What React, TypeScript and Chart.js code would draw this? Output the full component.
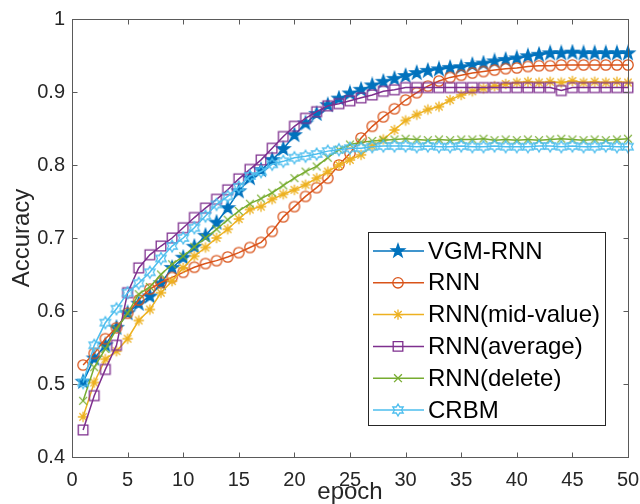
import React, { useEffect, useRef } from 'react';
import { Chart, registerables } from 'chart.js';

Chart.register(...registerables);

const epochs = [
  1, 2, 3, 4, 5, 6, 7, 8, 9, 10, 11, 12, 13, 14, 15, 16, 17, 18, 19, 20, 21, 22, 23, 24, 25,
  26, 27, 28, 29, 30, 31, 32, 33, 34, 35, 36, 37, 38, 39, 40, 41, 42, 43, 44, 45, 46, 47, 48, 49, 50,
];

const vgmRnn = [
  0.503, 0.535, 0.553, 0.577, 0.597, 0.610, 0.620, 0.638, 0.659, 0.673,
  0.688, 0.703, 0.721, 0.741, 0.764, 0.782, 0.793, 0.807, 0.822, 0.841,
  0.857, 0.870, 0.882, 0.891, 0.898, 0.903, 0.909, 0.914, 0.918, 0.922,
  0.926, 0.929, 0.931, 0.933, 0.934, 0.937, 0.939, 0.942, 0.944, 0.946,
  0.949, 0.951, 0.953, 0.953, 0.954, 0.953, 0.953, 0.953, 0.953, 0.953,
];

const rnn = [
  0.526, 0.542, 0.562, 0.577, 0.597, 0.615, 0.630, 0.639, 0.646, 0.653,
  0.660, 0.665, 0.669, 0.674, 0.680, 0.687, 0.694, 0.709, 0.729, 0.743,
  0.757, 0.769, 0.782, 0.800, 0.816, 0.837, 0.853, 0.866, 0.877, 0.889,
  0.899, 0.908, 0.915, 0.920, 0.923, 0.926, 0.928, 0.930, 0.932, 0.933,
  0.935, 0.936, 0.936, 0.937, 0.937, 0.937, 0.937, 0.937, 0.937, 0.937,
];

const rnnMid = [
  0.455, 0.502, 0.534, 0.545, 0.562, 0.587, 0.602, 0.625, 0.641, 0.659,
  0.675, 0.687, 0.700, 0.712, 0.726, 0.739, 0.743, 0.753, 0.760, 0.766,
  0.773, 0.782, 0.791, 0.800, 0.807, 0.814, 0.826, 0.835, 0.848, 0.861,
  0.869, 0.876, 0.880, 0.889, 0.896, 0.901, 0.905, 0.908, 0.911, 0.913,
  0.914, 0.913, 0.914, 0.913, 0.915, 0.913, 0.914, 0.913, 0.914, 0.913,
];

const rnnAvg = [
  0.437, 0.484, 0.520, 0.553, 0.625, 0.659, 0.677, 0.689, 0.700, 0.714,
  0.728, 0.741, 0.753, 0.766, 0.781, 0.794, 0.807, 0.823, 0.839, 0.853,
  0.864, 0.873, 0.881, 0.884, 0.888, 0.892, 0.896, 0.901, 0.903, 0.906,
  0.906, 0.906, 0.906, 0.906, 0.906, 0.906, 0.906, 0.906, 0.906, 0.906,
  0.906, 0.906, 0.906, 0.902, 0.906, 0.906, 0.906, 0.906, 0.906, 0.906,
];

const rnnDel = [
  0.477, 0.523, 0.548, 0.575, 0.597, 0.623, 0.633, 0.650, 0.664, 0.675,
  0.688, 0.700, 0.712, 0.725, 0.737, 0.747, 0.754, 0.762, 0.772, 0.782,
  0.791, 0.798, 0.810, 0.821, 0.828, 0.831, 0.833, 0.834, 0.835, 0.836,
  0.835, 0.834, 0.835, 0.834, 0.835, 0.835, 0.836, 0.834, 0.835, 0.834,
  0.835, 0.834, 0.835, 0.836, 0.835, 0.834, 0.835, 0.834, 0.835, 0.836,
];

const crbm = [
  0.502, 0.553, 0.584, 0.603, 0.625, 0.638, 0.653, 0.672, 0.689, 0.700,
  0.714, 0.730, 0.746, 0.757, 0.770, 0.785, 0.791, 0.801, 0.805, 0.810,
  0.812, 0.815, 0.819, 0.821, 0.823, 0.823, 0.825, 0.826, 0.826, 0.826,
  0.825, 0.826, 0.825, 0.825, 0.826, 0.825, 0.825, 0.826, 0.825, 0.825,
  0.825, 0.826, 0.826, 0.825, 0.826, 0.825, 0.825, 0.826, 0.825, 0.825,
];

const seriesLabels = ['VGM-RNN', 'RNN', 'RNN(mid-value)', 'RNN(average)', 'RNN(delete)', 'CRBM'];
const seriesValues = [vgmRnn, rnn, rnnMid, rnnAvg, rnnDel, crbm];
const seriesColors = ['#0072BD', '#D95319', '#EDB120', '#7E2F8E', '#77AC30', '#4DBEEE'];
const seriesMarkers = ['pentagram', 'circle', 'asterisk', 'square', 'x', 'hexagram'];

const xTickValues = [0, 5, 10, 15, 20, 25, 30, 35, 40, 45, 50];
const yTickValues = [0.4, 0.5, 0.6, 0.7, 0.8, 0.9, 1];

const xTitle = 'epoch';
const yTitle = 'Accuracy';

const FONT = "'Liberation Sans', Arial, Helvetica, sans-serif";
const AXIS_COLOR = '#5a5a5a';
const TEXT_COLOR = '#262626';

function drawMarker(ctx: CanvasRenderingContext2D, kind: string, x: number, y: number, color: string) {
  ctx.save();
  ctx.strokeStyle = color;
  ctx.fillStyle = color;
  ctx.lineWidth = 1.3;
  ctx.lineJoin = 'miter';
  ctx.beginPath();
  if (kind === 'pentagram') {
    const R = 7, r = 2.8;
    for (let i = 0; i < 10; i++) {
      const a = -Math.PI / 2 + (i * Math.PI) / 5;
      const rad = i % 2 === 0 ? R : r;
      const px = x + rad * Math.cos(a), py = y + rad * Math.sin(a);
      if (i === 0) ctx.moveTo(px, py); else ctx.lineTo(px, py);
    }
    ctx.closePath();
    ctx.fill();
    ctx.stroke();
  } else if (kind === 'circle') {
    ctx.arc(x, y, 5.2, 0, Math.PI * 2);
    ctx.stroke();
  } else if (kind === 'asterisk') {
    const r = 5.2;
    for (let i = 0; i < 4; i++) {
      const a = (i * Math.PI) / 4;
      ctx.moveTo(x - r * Math.cos(a), y - r * Math.sin(a));
      ctx.lineTo(x + r * Math.cos(a), y + r * Math.sin(a));
    }
    ctx.stroke();
  } else if (kind === 'square') {
    const s = 4.8;
    ctx.rect(x - s, y - s, 2 * s, 2 * s);
    ctx.stroke();
  } else if (kind === 'x') {
    const r = 3.9;
    ctx.moveTo(x - r, y - r);
    ctx.lineTo(x + r, y + r);
    ctx.moveTo(x - r, y + r);
    ctx.lineTo(x + r, y - r);
    ctx.stroke();
  } else if (kind === 'hexagram') {
    const R = 6, r = R / Math.sqrt(3);
    for (let i = 0; i < 12; i++) {
      const a = -Math.PI / 2 + (i * Math.PI) / 6;
      const rad = i % 2 === 0 ? R : r;
      const px = x + rad * Math.cos(a), py = y + rad * Math.sin(a);
      if (i === 0) ctx.moveTo(px, py); else ctx.lineTo(px, py);
    }
    ctx.closePath();
    ctx.stroke();
  }
  ctx.restore();
}

function makeMarkerCanvas(kind: string, color: string) {
  const c = document.createElement('canvas');
  c.width = 18;
  c.height = 18;
  const ctx = c.getContext('2d')!;
  drawMarker(ctx, kind, 9, 9, color);
  return c;
}

const framePlugin = {
  id: 'matlabFrame',
  afterDraw(chart: any) {
    const { ctx, chartArea: a, scales } = chart;
    ctx.save();
    ctx.strokeStyle = AXIS_COLOR;
    ctx.lineWidth = 1;
    const L = Math.round(a.left) + 0.5, R = Math.round(a.right) + 0.5;
    const T = Math.round(a.top) + 0.5, B = Math.round(a.bottom) + 0.5;
    ctx.strokeRect(L, T, R - L, B - T);
    const tl = 5;
    ctx.beginPath();
    for (const v of xTickValues) {
      const px = Math.round(scales.x.getPixelForValue(v)) + 0.5;
      ctx.moveTo(px, B); ctx.lineTo(px, B - tl);
      ctx.moveTo(px, T); ctx.lineTo(px, T + tl);
    }
    for (const v of yTickValues) {
      const py = Math.round(scales.y.getPixelForValue(v)) + 0.5;
      ctx.moveTo(L, py); ctx.lineTo(L + tl, py);
      ctx.moveTo(R, py); ctx.lineTo(R - tl, py);
    }
    ctx.stroke();

    // legend box (inside axes, lower right)
    const boxR = a.right - 23, boxB = a.bottom - 32;
    const boxL = boxR - 237, boxT = boxB - 193;
    ctx.fillStyle = '#ffffff';
    ctx.fillRect(boxL, boxT, boxR - boxL, boxB - boxT);
    ctx.strokeStyle = '#262626';
    ctx.strokeRect(Math.round(boxL) + 0.5, Math.round(boxT) + 0.5, Math.round(boxR - boxL), Math.round(boxB - boxT));
    const rowStep = 31.8;
    const firstRow = boxT + 19;
    ctx.font = `24px ${FONT}`;
    ctx.textBaseline = 'middle';
    ctx.textAlign = 'left';
    chart.data.datasets.forEach((ds: any, i: number) => {
      const y = firstRow + i * rowStep;
      ctx.strokeStyle = ds.borderColor;
      ctx.lineWidth = 1.5;
      ctx.beginPath();
      ctx.moveTo(boxL + 5, y);
      ctx.lineTo(boxL + 56, y);
      ctx.stroke();
      drawMarker(ctx, seriesMarkers[i], boxL + 30, y, ds.borderColor);
      ctx.fillStyle = '#000000';
      ctx.fillText(ds.label, boxL + 60, y + 1);
    });
    ctx.restore();
  },
};

export default function App() {
  const ref = useRef<HTMLCanvasElement | null>(null);

  useEffect(() => {
    if (!ref.current) return;
    const datasets = seriesValues.map((vals, i) => ({
      label: seriesLabels[i],
      data: epochs.map((e, j) => ({ x: e, y: vals[j] })),
      borderColor: seriesColors[i],
      backgroundColor: seriesColors[i],
      borderWidth: 1.5,
      pointStyle: makeMarkerCanvas(seriesMarkers[i], seriesColors[i]) as any,
      pointRadius: 5,
      pointHoverRadius: 5,
      tension: 0,
      fill: false,
      clip: false as any,
      order: seriesValues.length - i,
    }));

    const chart = new Chart(ref.current, {
      type: 'line',
      data: { datasets },
      options: {
        animation: false,
        responsive: false,
        events: [],
        layout: { padding: { top: 19, right: 12, left: 0, bottom: 0 } },
        plugins: {
          legend: { display: false },
          tooltip: { enabled: false },
        },
        scales: {
          x: {
            type: 'linear',
            min: 0,
            max: 50,
            afterBuildTicks: (s: any) => {
              s.ticks = xTickValues.map((v) => ({ value: v }));
            },
            afterFit: (s: any) => {
              s.height = 47;
              s.paddingLeft = 0;
              s.paddingRight = 0;
            },
            grid: { display: false, drawTicks: false },
            border: { display: false },
            ticks: {
              autoSkip: false,
              maxRotation: 0,
              padding: 11,
              color: TEXT_COLOR,
              font: { family: FONT, size: 20 },
              callback: (v: any) => String(v),
            },
            title: {
              display: true,
              text: xTitle,
              color: TEXT_COLOR,
              font: { family: FONT, size: 24, lineHeight: 1 },
              padding: 0,
            },
          },
          y: {
            type: 'linear',
            min: 0.4,
            max: 1,
            afterBuildTicks: (s: any) => {
              s.ticks = yTickValues.map((v) => ({ value: v }));
            },
            afterFit: (s: any) => {
              s.width = 72;
              s.paddingTop = 0;
              s.paddingBottom = 0;
            },
            grid: { display: false, drawTicks: false },
            border: { display: false },
            ticks: {
              padding: 7,
              color: TEXT_COLOR,
              font: { family: FONT, size: 20 },
              callback: (v: any) => String(Math.round(Number(v) * 10) / 10),
            },
            title: {
              display: true,
              text: yTitle,
              color: TEXT_COLOR,
              font: { family: FONT, size: 24 },
              padding: { top: 8, bottom: 0 },
            },
          },
        },
      },
      plugins: [framePlugin],
    });
    return () => chart.destroy();
  }, []);

  return (
    <div style={{ position: 'fixed', left: 0, top: 0, width: 640, height: 504, background: '#ffffff' }}>
      <canvas ref={ref} width={640} height={504} style={{ display: 'block' }} />
    </div>
  );
}
